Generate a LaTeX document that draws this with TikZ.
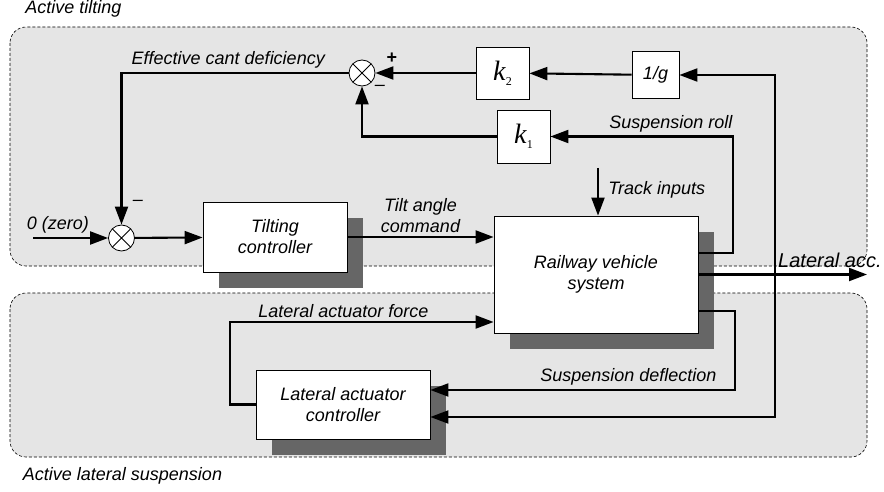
\documentclass[tikz,border=0pt]{standalone}
\usepackage{fontspec}
\setmainfont{Liberation Sans}
\newfontfamily\gainfont{Liberation Serif}
\usetikzlibrary{arrows.meta, positioning, shadows, calc}

\begin{document}
\begin{tikzpicture}[x=1pt,y=-1pt,>={Triangle[length=18pt,width=13pt]},
	every node/.style={font=\fontsize{18}{21}\selectfont\itshape},
	block/.style={draw, line width=0.8pt, fill=white, align=center, inner sep=0pt,
		drop shadow={shadow xshift=16pt, shadow yshift=-16pt, fill=black!60, opacity=1}},
	gain/.style={draw, line width=0.8pt, fill=white, inner sep=0pt},
	sum/.style={draw, circle, line width=0.8pt, fill=white, minimum size=26pt, inner sep=0pt,
		path picture={\draw[line width=0.8pt] (path picture bounding box.north west) -- (path picture bounding box.south east)
			(path picture bounding box.north east) -- (path picture bounding box.south west);}},
	region/.style={draw, dash pattern=on 3pt off 2pt, fill=black!10, rounded corners=16pt, line width=0.6pt},
	flow/.style={line width=2.1pt}]

		      \useasboundingbox (0,0) rectangle (884,492);

		      % the two dashed areas
		      \draw[region] (10,27) rectangle (867,266);
		      \draw[region] (10,293) rectangle (867,457);
		      \node (tiltlbl) at (73.5,9) {Active tilting};
		      \node (suslbl) at (122.5,476) {Active lateral suspension};

		      \node[sum] (sumA) at (362,73) {};
		      \node[sum] (sumB) at (121.5,238) {};
		      \node[font=\fontsize{18}{21}\selectfont\bfseries] (plusA) at (392,58) {+};
		      \node (minA) at (380,88) {\textendash};
		      \node (minB) at (138,203) {\textendash};

		      \node[block, minimum width=144pt, minimum height=70pt] (tiltc) at (275,237) {Tilting\\controller};
		      \node[block, minimum width=204pt, minimum height=117pt] (rvs) at (596,274.5) {Railway vehicle\\system};
		      \node[block, minimum width=174pt, minimum height=69pt] (latc) at (343,404.5) {Lateral actuator\\controller};

		      \node[gain, minimum width=53pt, minimum height=52pt, font=\gainfont\fontsize{28}{30}\selectfont] (k2) at (502.5,73)
		      	{\textit{k}\raisebox{-5pt}{\fontsize{12}{12}\selectfont 2}};
		      \node[gain, minimum size=47pt] (oneg) at (655.5,75) {1/g};
		      \node[gain, minimum size=53pt, font=\gainfont\fontsize{28}{30}\selectfont] (k1) at (523.5,136.5)
		      	{\textit{k}\raisebox{-5pt}{\fontsize{12}{12}\selectfont 1}};

		      \coordinate (zin) at (33,238);
		      \coordinate (trk) at (598,168);
		      \coordinate (rollx) at (733,136.5);
		      \coordinate (defx) at (735,390);
		      \coordinate (forcex) at (230,322);
		      \coordinate (br) at (775,274.5);
		      \coordinate (accend) at (867,274.5);

		      \path[->, flow]

		      (zin) edge node[pos=0.33, above] {0 (zero)} (sumB)
		      (sumB) edge (tiltc)
		      (tiltc) edge node[above, align=center] {Tilt angle\\command} (tiltc -| rvs.west)
		      (trk) edge node[right, pos=0.45, xshift=6pt] {Track inputs} (trk |- rvs.north)

		      (oneg) edge (k2)
		      (k2) edge (sumA)
		      (rvs) edge node[above, pos=0.78, yshift=2pt, font=\fontsize{20}{22}\selectfont\itshape] {Lateral acc.} (accend)
		      ;

		      \draw[->, flow] (sumA) -| node[pos=0.265, above] {Effective cant deficiency} (sumB);
		      \draw[->, flow] (k1) -| (sumA);
		      \draw[->, flow] ([yshift=21.5pt]rvs.east) -| (rollx) -- node[above, pos=0.34] {Suspension roll} (k1);
		      \draw[->, flow] ([yshift=-36.5pt]rvs.east) -| (defx) -- node[above, pos=0.35] {Suspension deflection} ([yshift=14.5pt]latc.east);
		      \draw[->, flow] (br) |- (oneg);
		      \draw[->, flow] (br) |- ([yshift=-12.5pt]latc.east);
		      \draw[->, flow] (latc) -| (forcex) -- node[above, pos=0.43] {Lateral actuator force} ([yshift=-47.5pt]rvs.west);
		      % (rvs) edge [bend left] (latc)
\end{tikzpicture}
\end{document}
